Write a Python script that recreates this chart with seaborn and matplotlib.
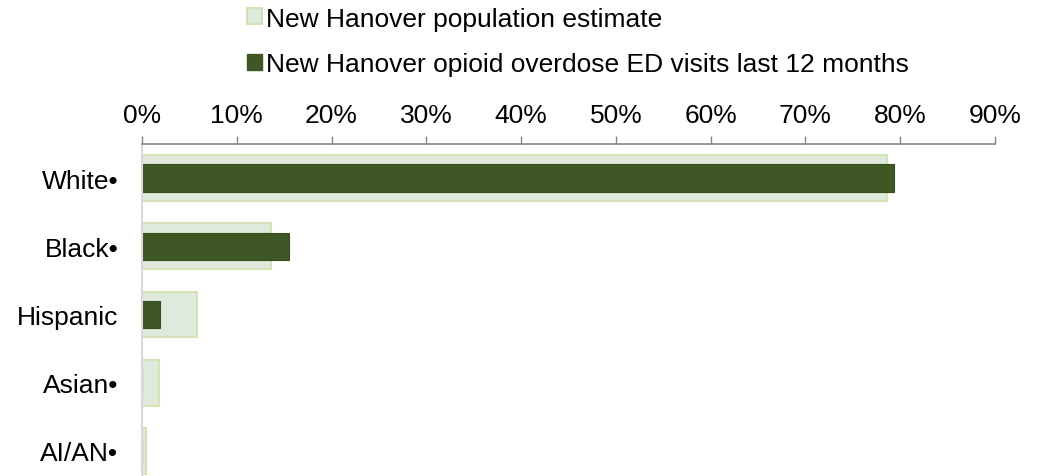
import matplotlib
matplotlib.use("Agg")
import matplotlib.pyplot as plt
import matplotlib.patches as mpatches
import pandas as pd
import seaborn as sns

# values (percent)
groups = ["White•", "Black•", "Hispanic", "Asian•", "AI/AN•"]
population_pct = [78.6, 13.6, 5.8, 1.8, 0.45]
ed_visits_pct = [79.3, 15.5, 1.9, 0.0, 0.0]
ticks = [0, 10, 20, 30, 40, 50, 60, 70, 80, 90]

pop_label = "New Hanover population estimate"
ed_label = "New Hanover opioid overdose ED visits last 12 months"

light_fill = "#dfe9dc"
light_edge = "#d3e3b5"
dark_fill = "#3e5725"

df = pd.DataFrame({"group": groups, "pop": population_pct, "ed": ed_visits_pct})

sns.set_style("white")
plt.rcParams["font.family"] = ["Liberation Sans", "DejaVu Sans"]
plt.rcParams["text.color"] = "black"
plt.rcParams["xtick.labelcolor"] = "black"
plt.rcParams["ytick.labelcolor"] = "black"

fig = plt.figure(figsize=(10.46, 4.77), dpi=100)
ax = fig.add_axes([142 / 1046, -0.0189, (995 - 142) / 1046, 0.7149])

sns.barplot(data=df, x="pop", y="group", order=groups, orient="h", width=0.67,
            color=light_fill, edgecolor=light_edge, linewidth=1.5,
            saturation=1, ax=ax)
sns.barplot(data=df, x="ed", y="group", order=groups, orient="h", width=0.40,
            color=dark_fill, edgecolor="#374d20", linewidth=0.8,
            saturation=1, ax=ax)

ax.set_xlim(0, 90)
ax.set_ylim(4.5, -0.5)
ax.set_xticks(ticks)
ax.set_xticklabels([f"{t}%" for t in ticks], fontsize=19)
ax.xaxis.tick_top()
ax.tick_params(axis="x", direction="out", length=6, width=1, color="#868686",
               pad=6.5, labelcolor="black")
ax.tick_params(axis="y", length=0, pad=17, labelsize=19, labelcolor="black")
ax.set_xlabel("")
ax.set_ylabel("")

for s in ["right", "bottom"]:
    ax.spines[s].set_visible(False)
ax.spines["top"].set_color("#868686")
ax.spines["top"].set_linewidth(1.2)
ax.spines["left"].set_color("#d9d9d9")
ax.spines["left"].set_linewidth(1.5)

handles = [
    mpatches.Patch(facecolor=light_fill, edgecolor=light_edge, linewidth=1.5, label=pop_label),
    mpatches.Patch(facecolor=dark_fill, edgecolor=dark_fill, label=ed_label),
]
leg = fig.legend(handles=handles, loc="upper left", bbox_to_anchor=(244 / 1046, 1 - 5 / 477),
                 frameon=False, fontsize=19, handlelength=0.57, handleheight=0.57,
                 handletextpad=0.15, labelspacing=0.81, borderaxespad=0, borderpad=0.1)
for t in leg.get_texts():
    t.set_color("black")

fig.savefig("out.png", dpi=100)
